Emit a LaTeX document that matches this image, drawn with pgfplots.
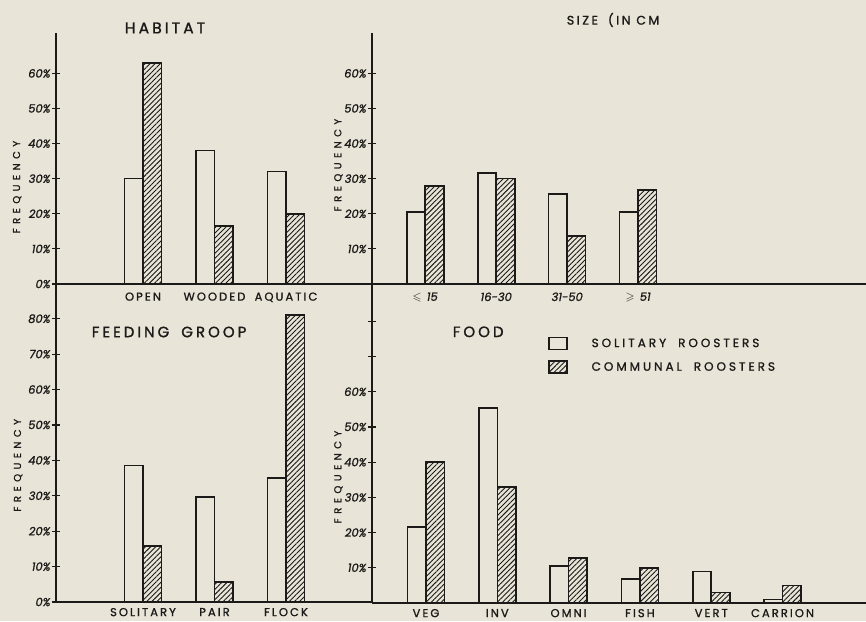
\documentclass[border=0pt]{standalone}
\usepackage{amssymb}
\usepackage{fontspec}
\setmainfont{Poppins}
\newfontfamily\capsfont{Poppins}[LetterSpace=18, FakeBold=1.2]
\newfontfamily\titlefont{Poppins}[LetterSpace=20, FakeBold=1.4]
\newfontfamily\legfont{Poppins}[LetterSpace=25, FakeBold=1.2]
\newfontfamily\widefont{Poppins}[LetterSpace=45, FakeBold=1.2]
\newfontfamily\numfont{Poppins}[FakeBold=1.2, ItalicFeatures={FakeBold=1.2}]
\usepackage{pgfplots}
\pgfplotsset{compat=1.18}
\usetikzlibrary{patterns.meta}
\definecolor{paper}{RGB}{232,228,216}
\definecolor{ink}{RGB}{28,26,24}
\begin{document}
\begin{tikzpicture}
\fill[paper] (0pt,0pt) rectangle (866pt,621pt);
\useasboundingbox (0pt,0pt) rectangle (866pt,621pt);
\pgfplotsset{
  every axis title shift=0pt,
  panel/.style={
    scale only axis, anchor=south west,
    axis x line*=bottom, axis y line*=left,
    axis line style={ink, line width=1.9pt},
    ymin=0,
    ybar=0pt, bar width=18.5pt,
    x tick style={draw=none},
    y tick style={ink, line width=1.2pt},
    tick align=center, major tick length=8pt,
    yticklabel style={font=\numfont\itshape\fontsize{11.5}{11.5}\selectfont, text=ink, xshift=2pt},
    xticklabel style={font=\capsfont\fontsize{11.5}{11.5}\selectfont, text=ink, yshift=-1pt},
    ylabel={FREQUENCY},
    ylabel style={font=\widefont\fontsize{10}{10}\selectfont, text=ink, anchor=center},
    title style={font=\titlefont\fontsize{15}{15}\selectfont, text=ink, anchor=center},
    clip=false,
  },
  sol/.style={draw=ink, fill=paper, line width=1.6pt,
    legend image code/.code={\draw[##1] (0pt,-6pt) rectangle (18pt,6pt);}},
  com/.style={draw=ink, line width=1.6pt,
    pattern={Lines[angle=45, distance=3.6pt, line width=0.9pt]}, pattern color=ink,
    legend image code/.code={\draw[##1] (0pt,-6pt) rectangle (18pt,6pt);}},
}
% top-left: HABITAT
\begin{axis}[panel, at={(56pt,337pt)}, width=316pt, height=251pt,
  xmin=-1.217, xmax=3.203, ymax=71.5,
  xtick={0,1,2}, xticklabels={OPEN,WOODED,AQUATIC},
  ytick={0,10,20,30,40,50,60},
  yticklabels={0\%,10\%,20\%,30\%,40\%,50\%,60\%},
  ylabel style={at={(axis description cs:-0.123,0.386)}},
  title={HABITAT}, title style={font=\titlefont\fontsize{15.5}{15.5}\selectfont, at={(axis description cs:0.345,1.02)}}]
\addplot[sol] coordinates {(0,30) (1,38) (2,32)};
\addplot[com] coordinates {(0,63) (1,16.5) (2,20)};
\end{axis}
% top-right: SIZE
\begin{axis}[panel, at={(372pt,337pt)}, width=494pt, height=251pt,
  xmin=-0.75, xmax=6.21, ymax=71.5,
  xtick={0,1,2,3},
  xticklabels={{$\leqslant$ \numfont\itshape 15},{\numfont\itshape 16-30},{\numfont\itshape 31-50},{$\geqslant$ \numfont\itshape 51}},
  ytick={10,20,30,40,50,60},
  yticklabels={10\%,20\%,30\%,40\%,50\%,60\%},
  ylabel style={at={(axis description cs:-0.068,0.474)}},
  title={SIZE\hspace{10pt}(IN CM}, title style={font=\titlefont\fontsize{12.5}{12.5}\selectfont, at={(axis description cs:0.488,1.052)}}]
\addplot[sol] coordinates {(0,20.5) (1,31.6) (2,25.7) (3,20.5)};
\addplot[com] coordinates {(0,28) (1,30) (2,13.7) (3,26.7)};
\end{axis}
% bottom-left: FEEDING GROUP
\begin{axis}[panel, at={(56pt,19pt)}, width=316pt, height=318pt,
  xmin=-1.217, xmax=3.203, ymax=89.8,
  xtick={0,1,2}, xticklabels={SOLITARY,PAIR,FLOCK},
  xticklabel style={yshift=2.5pt},
  ytick={0,10,20,30,40,50,60,70,80},
  yticklabels={0\%,10\%,20\%,30\%,40\%,50\%,60\%,70\%,80\%},
  ylabel style={at={(axis description cs:-0.12,0.43)}},
  title={FEEDING\hspace{12pt}GROOP}, title style={at={(axis description cs:0.358,0.849)}}]
\addplot[sol] coordinates {(0,38.6) (1,29.6) (2,35)};
\addplot[com] coordinates {(0,15.8) (1,5.6) (2,81)};
\end{axis}
% bottom-right: FOOD
\begin{axis}[panel, at={(372pt,18pt)}, width=494pt, height=319pt,
  xmin=-0.757, xmax=6.17, ymax=90.6,
  xtick={0,1,2,3,4,5}, xticklabels={VEG,INV,OMNI,FISH,VERT,CARRION},
  xticklabel style={yshift=2.5pt},
  ytick={10,20,30,40,50,60,70,80},
  yticklabels={10\%,20\%,30\%,40\%,50\%,60\%,{},{}},
  ylabel style={at={(axis description cs:-0.068,0.395)}},
  title={FOOD}, title style={at={(axis description cs:0.215,0.85)}},
  legend style={at={(axis description cs:0.356,0.835)}, anchor=north west,
    draw=none, fill=none, inner sep=0pt, row sep=10pt, column sep=0pt,
    font=\legfont\fontsize{12}{12}\selectfont, text=ink,
    nodes={inner sep=0pt, anchor=west}},
  legend cell align=left,
  /tikz/every odd column/.append style={column sep=24pt}]
\addplot[sol] coordinates {(0,21.6) (1,55.4) (2,10.5) (3,6.8) (4,9) (5,1)};
\addplot[com] coordinates {(0,40) (1,33) (2,12.8) (3,10) (4,3) (5,5)};
\legend{SOLITARY\hspace{12pt}ROOSTERS, COMMUNAL\hspace{12pt}ROOSTERS}
\end{axis}
\end{tikzpicture}
\end{document}
